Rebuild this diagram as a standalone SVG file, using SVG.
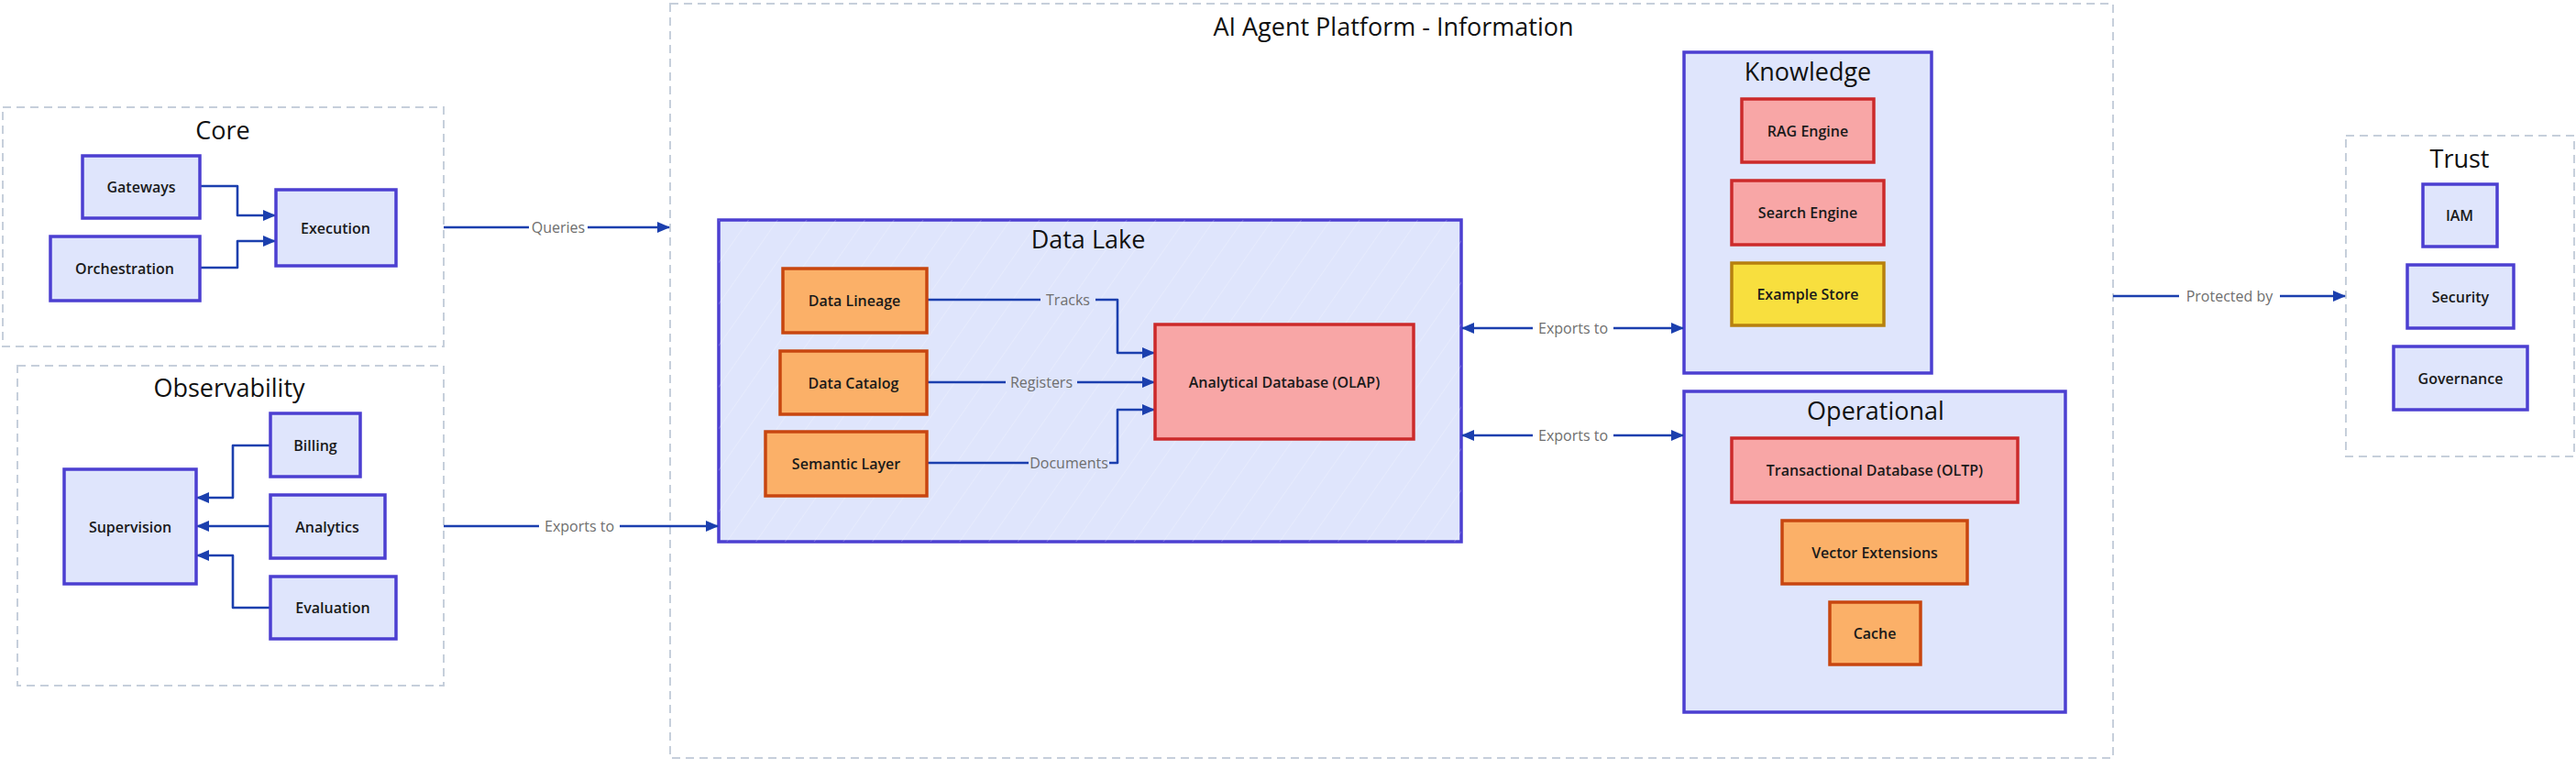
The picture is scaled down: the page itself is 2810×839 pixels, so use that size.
<svg xmlns="http://www.w3.org/2000/svg" width="2810" height="839" viewBox="0 0 2810 839">
<defs>
<style>
.grp{fill:#ffffff;stroke:#c6cfdb;stroke-width:2;stroke-dasharray:9 6}
.blue{fill:#dfe5fc;stroke:#4c3fd1;stroke-width:3.5}
.orange{fill:#fbb068;stroke:#c8460f;stroke-width:3.5}
.red{fill:#f8a6a6;stroke:#cc2a2a;stroke-width:3.5}
.yellow{fill:#f8df3e;stroke:#b7800e;stroke-width:3.5}
.hatch{stroke:none}
.gtitle{font-family:"Open Sans","Liberation Sans",sans-serif;font-size:27px;fill:#111;text-anchor:middle}
.ntext{font-family:"Open Sans","Liberation Sans",sans-serif;font-size:16px;font-weight:600;fill:#1a1a1a;text-anchor:middle;dominant-baseline:central}
.elabel{font-family:"Open Sans","Liberation Sans",sans-serif;font-size:16px;fill:#6e6e6e;text-anchor:middle;dominant-baseline:central}
.conn{fill:none;stroke:#1b3fae;stroke-width:2.6;stroke-linejoin:round}
</style>
<marker id="ah" viewBox="0 0 14 12" refX="13" refY="6" markerWidth="14" markerHeight="12" markerUnits="userSpaceOnUse" orient="auto-start-reverse">
<path d="M0,0 L14,6 L0,12 z" fill="#1b3fae"/>
</marker>
<pattern id="hach" width="26" height="26" patternUnits="userSpaceOnUse" patternTransform="rotate(35)">
<line x1="0" y1="0" x2="0" y2="26" stroke="#ffffff" stroke-opacity="0.35" stroke-width="1.2"/>
</pattern>
</defs>

<!-- Group containers -->
<g id="platform">
<rect class="grp" x="731" y="4" width="1574" height="823"/>
<text class="gtitle" x="1520" y="39" font-size="31">AI Agent Platform - Information</text>
</g>
<g id="core">
<rect class="grp" x="3" y="117" width="481" height="261"/>
<text class="gtitle" x="243" y="152">Core</text>
</g>
<g id="observability">
<rect class="grp" x="19" y="399" width="465" height="349"/>
<text class="gtitle" x="250" y="433">Observability</text>
</g>
<g id="trust">
<rect class="grp" x="2559" y="148" width="249" height="350"/>
<text class="gtitle" x="2683" y="183">Trust</text>
</g>
<g id="datalake">
<rect class="blue" x="784" y="240" width="810" height="351"/>
<rect class="hatch" x="784" y="240" width="810" height="351" fill="url(#hach)"/>
<text class="gtitle" x="1187" y="271" font-size="25">Data Lake</text>
</g>
<g id="knowledge">
<rect class="blue" x="1837" y="57" width="270" height="350"/>
<text class="gtitle" x="1972" y="88" font-size="25">Knowledge</text>
</g>
<g id="operational">
<rect class="blue" x="1837" y="427" width="416" height="350"/>
<text class="gtitle" x="2046" y="458">Operational</text>
</g>

<!-- Connectors -->
<g id="connectors">
<path class="conn" d="M484 248 H730" marker-end="url(#ah)"/>
<path class="conn" d="M484 574 H783" marker-end="url(#ah)"/>
<path class="conn" d="M218 203 H259 V235 H300" marker-end="url(#ah)"/>
<path class="conn" d="M218 292 H259 V263 H300" marker-end="url(#ah)"/>
<path class="conn" d="M295 486 H254 V543 H215" marker-end="url(#ah)"/>
<path class="conn" d="M295 574 H215" marker-end="url(#ah)"/>
<path class="conn" d="M295 663 H254 V606 H215" marker-end="url(#ah)"/>
<path class="conn" d="M1011 327 H1219 V385 H1259" marker-end="url(#ah)"/>
<path class="conn" d="M1011 417 H1259" marker-end="url(#ah)"/>
<path class="conn" d="M1011 505 H1219 V447 H1259" marker-end="url(#ah)"/>
<path class="conn" d="M1595 358 H1836" marker-start="url(#ah)" marker-end="url(#ah)"/>
<path class="conn" d="M1595 475 H1836" marker-start="url(#ah)" marker-end="url(#ah)"/>
<path class="conn" d="M2305 323 H2558" marker-end="url(#ah)"/>

<rect x="577" y="238" width="64" height="20" fill="#ffffff"/>
<text class="elabel" x="609" y="248">Queries</text>
<rect x="588" y="564" width="88" height="20" fill="#ffffff"/>
<text class="elabel" x="632" y="574">Exports to</text>
<rect x="1135" y="317" width="60" height="20" fill="#dfe5fc"/>
<text class="elabel" x="1165" y="327">Tracks</text>
<rect x="1097" y="407" width="78" height="20" fill="#dfe5fc"/>
<text class="elabel" x="1136" y="417">Registers</text>
<rect x="1122" y="495" width="88" height="20" fill="#dfe5fc"/>
<text class="elabel" x="1166" y="505">Documents</text>
<rect x="1672" y="348" width="88" height="20" fill="#ffffff"/>
<text class="elabel" x="1716" y="358">Exports to</text>
<rect x="1672" y="465" width="88" height="20" fill="#ffffff"/>
<text class="elabel" x="1716" y="475">Exports to</text>
<rect x="2377" y="313" width="110" height="20" fill="#ffffff"/>
<text class="elabel" x="2432" y="323">Protected by</text>
</g>

<!-- Nodes -->
<g id="gateways"><rect class="blue" x="90" y="170" width="128" height="68"/><text class="ntext" x="154" y="204">Gateways</text></g>
<g id="orchestration"><rect class="blue" x="55" y="258" width="163" height="70"/><text class="ntext" x="136" y="293">Orchestration</text></g>
<g id="execution"><rect class="blue" x="301" y="207" width="131" height="83"/><text class="ntext" x="366" y="249">Execution</text></g>

<g id="supervision"><rect class="blue" x="70" y="512" width="144" height="125"/><text class="ntext" x="142" y="575">Supervision</text></g>
<g id="billing"><rect class="blue" x="295" y="451" width="98" height="69"/><text class="ntext" x="344" y="486">Billing</text></g>
<g id="analytics"><rect class="blue" x="295" y="540" width="125" height="69"/><text class="ntext" x="357" y="575">Analytics</text></g>
<g id="evaluation"><rect class="blue" x="295" y="629" width="137" height="68"/><text class="ntext" x="363" y="663">Evaluation</text></g>

<g id="data-lineage"><rect class="orange" x="854" y="293" width="157" height="70"/><text class="ntext" x="932" y="328">Data Lineage</text></g>
<g id="data-catalog"><rect class="orange" x="851" y="383" width="160" height="69"/><text class="ntext" x="931" y="418">Data Catalog</text></g>
<g id="semantic-layer"><rect class="orange" x="835" y="471" width="176" height="70"/><text class="ntext" x="923" y="506">Semantic Layer</text></g>
<g id="olap"><rect class="red" x="1260" y="354" width="282" height="125"/><text class="ntext" x="1401" y="417">Analytical Database (OLAP)</text></g>

<g id="rag-engine"><rect class="red" x="1900" y="108" width="144" height="69"/><text class="ntext" x="1972" y="143">RAG Engine</text></g>
<g id="search-engine"><rect class="red" x="1889" y="197" width="166" height="70"/><text class="ntext" x="1972" y="232">Search Engine</text></g>
<g id="example-store"><rect class="yellow" x="1889" y="287" width="166" height="68"/><text class="ntext" x="1972" y="321">Example Store</text></g>

<g id="oltp"><rect class="red" x="1889" y="478" width="312" height="70"/><text class="ntext" x="2045" y="513">Transactional Database (OLTP)</text></g>
<g id="vector-extensions"><rect class="orange" x="1944" y="568" width="202" height="69"/><text class="ntext" x="2045" y="603">Vector Extensions</text></g>
<g id="cache"><rect class="orange" x="1996" y="657" width="99" height="68"/><text class="ntext" x="2045" y="691">Cache</text></g>

<g id="iam"><rect class="blue" x="2643" y="201" width="81" height="68"/><text class="ntext" x="2683" y="235">IAM</text></g>
<g id="security"><rect class="blue" x="2626" y="289" width="116" height="69"/><text class="ntext" x="2684" y="324">Security</text></g>
<g id="governance"><rect class="blue" x="2611" y="378" width="146" height="69"/><text class="ntext" x="2684" y="413">Governance</text></g>
</svg>
